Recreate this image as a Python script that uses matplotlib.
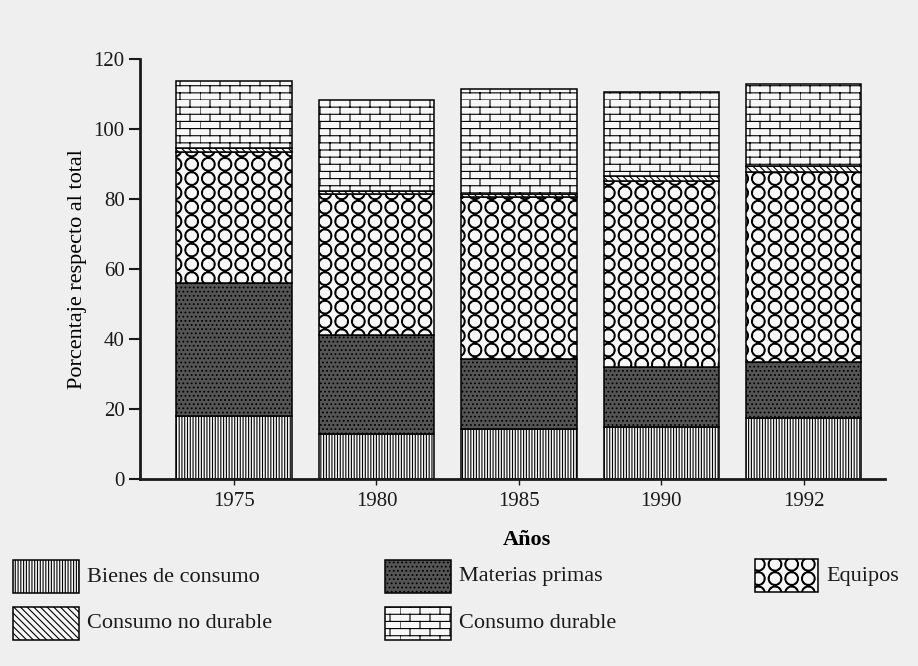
import warnings

import matplotlib
matplotlib.use("Agg")
import matplotlib.pyplot as plt
import matplotlib.hatch as mhatch
from matplotlib.patches import Rectangle
from matplotlib.path import Path
import numpy as np

years = ["1975", "1980", "1985", "1990", "1992"]

# segments stacked from bottom to top
bienes_consumo = [18.0, 12.7, 14.2, 14.6, 17.2]
materias_primas = [37.8, 28.3, 20.0, 17.4, 16.2]
equipos = [37.7, 40.4, 46.2, 53.2, 54.4]
consumo_no_durable = [1.0, 0.9, 1.0, 1.2, 1.7]
consumo_durable = [19.3, 26.0, 30.0, 24.2, 23.3]

y_ticks = [0, 20, 40, 60, 80, 100, 120]


class BrickHatch(mhatch.HatchPatternBase):
    """Staggered brick wall, selected with 'b' in the hatch string."""
    rows = 14
    cols = 5

    def __init__(self, hatch, density):
        self.on = "b" in hatch
        self.num_vertices = (self.rows * (1 + self.cols) * 2) if self.on else 0

    def set_vertices_and_codes(self, vertices, codes):
        k = 0
        for i in range(self.rows):
            y0 = i / self.rows
            y1 = (i + 1) / self.rows
            vertices[k] = (0.0, y0)
            vertices[k + 1] = (1.0, y0)
            k += 2
            shift = 0.5 / self.cols if i % 2 else 0.0
            for j in range(self.cols):
                xv = j / self.cols + shift
                vertices[k] = (xv, y0)
                vertices[k + 1] = (xv, y1)
                k += 2
        codes[0::2] = Path.MOVETO
        codes[1::2] = Path.LINETO


class GridCircles(mhatch.HatchPatternBase):
    """Open rings on a straight grid, selected with 'c' in the hatch string."""
    nx = 6
    ny = 7
    radius = 0.068

    def __init__(self, hatch, density):
        self.on = "c" in hatch
        circle = Path.unit_circle()
        # outer ring forward, inner ring backward -> hollow when filled
        self.ring = np.concatenate([circle.vertices, circle.vertices[::-1] * 0.86])
        self.ring_codes = np.concatenate([circle.codes, circle.codes])
        self.num_vertices = len(self.ring) * self.nx * self.ny if self.on else 0

    def set_vertices_and_codes(self, vertices, codes):
        n = len(self.ring)
        k = 0
        for i in range(self.ny):
            for j in range(self.nx):
                cx = (j + 0.5) / self.nx
                cy = (i + 0.5) / self.ny
                vertices[k:k + n] = self.ring * self.radius + (cx, cy)
                codes[k:k + n] = self.ring_codes
                k += n


mhatch._hatch_types.extend([BrickHatch, GridCircles])
warnings.filterwarnings("ignore")

plt.rcParams["font.family"] = ["Liberation Serif", "DejaVu Serif"]
plt.rcParams["hatch.linewidth"] = 0.8

PAPER = "#efefef"
LIGHT = "#f7f7f7"

series = [
    ("Bienes de consumo", bienes_consumo, dict(facecolor=LIGHT, hatch="||||||")),
    ("Materias primas", materias_primas, dict(facecolor="#555555", hatch="....")),
    ("Equipos", equipos, dict(facecolor=LIGHT, hatch="c")),
    ("Consumo no durable", consumo_no_durable, dict(facecolor=LIGHT, hatch="\\\\\\\\\\")),
    ("Consumo durable", consumo_durable, dict(facecolor=LIGHT, hatch="b")),
]

fig = plt.figure(figsize=(9.18, 6.66), dpi=100)
fig.patch.set_facecolor(PAPER)
ax = fig.add_axes([0.1525, 0.2815, 0.8115, 0.63])
ax.set_facecolor("none")

x = np.arange(len(years))
bottom = np.zeros(len(years))
for name, vals, style in series:
    ax.bar(x, vals, width=0.81, bottom=bottom, edgecolor="black",
           linewidth=1.1, label=name, **style)
    bottom += np.array(vals)

ax.set_xlim(-0.66, 4.57)
ax.set_ylim(0, 120)
ax.set_yticks(y_ticks)
ax.set_xticks(x)
ax.set_xticklabels(years)

for side in ("top", "right"):
    ax.spines[side].set_visible(False)
for side in ("left", "bottom"):
    ax.spines[side].set_linewidth(2.0)
    ax.spines[side].set_color("#1a1a1a")

ax.tick_params(axis="y", direction="out", length=8, width=1.5, pad=3,
               labelsize=15, colors="#1a1a1a")
ax.tick_params(axis="x", direction="out", length=4, width=1.0, pad=6,
               labelsize=15, colors="#1a1a1a")

ax.set_ylabel("Porcentaje respecto al total", fontsize=16)
ax.yaxis.set_label_coords(-0.0705, 0.5)
ax.set_xlabel("Años", fontsize=16, fontweight="bold")
ax.xaxis.set_label_coords(0.52, -0.147)
ax.xaxis.label.set_va("center")

# legend drawn below the chart in pixel coordinates of the page
lax = fig.add_axes([0, 0, 1, 1])
lax.set_xlim(0, 918)
lax.set_ylim(666, 0)
lax.axis("off")

legend_slots = {
    "Bienes de consumo": (13, 560),
    "Materias primas": (385, 560),
    "Equipos": (755, 559),
    "Consumo no durable": (13, 607),
    "Consumo durable": (385, 607),
}
for name, vals, style in series:
    lx, ly = legend_slots[name]
    w = 63 if name == "Equipos" else 66
    lax.add_patch(Rectangle((lx, ly), w, 33, edgecolor="black", linewidth=1.1, **style))
    lax.text(lx + w + 8, ly + 17, name, fontsize=16, va="center", ha="left",
             color="#1a1a1a")

fig.savefig("out.png", dpi=100, facecolor=PAPER)
plt.close(fig)
